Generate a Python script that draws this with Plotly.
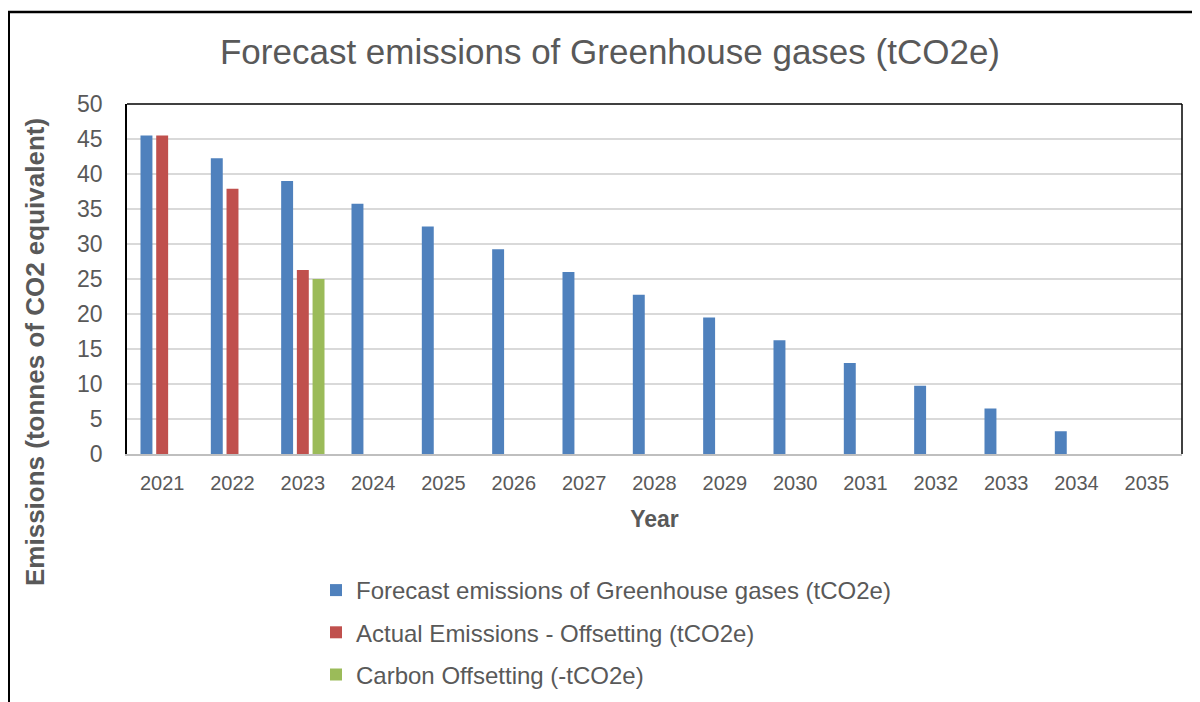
import plotly.graph_objects as go

years = [str(y) for y in range(2021, 2036)]
forecast = [45.5, 42.25, 39.0, 35.75, 32.5, 29.25, 26.0, 22.75, 19.5, 16.25, 13.0, 9.75, 6.5, 3.25, 0]
actual = [45.5, 37.9, 26.3, None, None, None, None, None, None, None, None, None, None, None, None]
offset = [None, None, 25.0, None, None, None, None, None, None, None, None, None, None, None, None]

names = ["Forecast emissions of Greenhouse gases (tCO2e)",
         "Actual Emissions - Offsetting (tCO2e)",
         "Carbon Offsetting (-tCO2e)"]
colors = ["#4F81BD", "#C0504D", "#9BBB59"]

OFF = 8  # page body margin
W, H = 1200 - OFF, 702 - OFF
L, R, T, B = 127 - OFF, 1182 - OFF, 104 - OFF, 454 - OFF
pw, ph = R - L, B - T

fig = go.Figure()
for i, (vals, nm, c) in enumerate(zip([forecast, actual, offset], names, colors)):
    fig.add_trace(go.Bar(x=years, y=vals, name=nm, legendgroup="g%d" % i,
                         marker=dict(color=c, line=dict(width=0))))

FONT = "Liberation Sans, Arial, sans-serif"
GREY = "#595959"

def px(x):
    return (x - OFF - L) / pw

def py(y):
    return (B - (y - OFF)) / ph

fig.update_layout(
    width=W, height=H,
    margin=dict(l=L, r=W - R, t=T, b=H - B, pad=0, autoexpand=False),
    paper_bgcolor="white", plot_bgcolor="white",
    barmode="group", bargap=0.33, bargroupgap=0.24,
    font=dict(family=FONT, color=GREY, size=20),
    title=dict(text="Forecast emissions of Greenhouse gases (tCO2e)",
               font=dict(family=FONT, size=35, color=GREY),
               x=(610 - OFF) / W, xref="container", xanchor="center",
               y=1 - (52 - OFF) / H, yanchor="middle"),
    xaxis=dict(type="category", showgrid=False, showline=True, linecolor="#BFBFBF", linewidth=1.5,
               ticks="", tickfont=dict(size=20, color=GREY), ticklabelstandoff=10,
               automargin=False,
               title=dict(text="<b>Year</b>", font=dict(size=23, color=GREY), standoff=18)),
    yaxis=dict(range=[0, 50], dtick=5, showgrid=True, gridcolor="#D9D9D9", gridwidth=1.5,
               showline=True, linecolor="black", linewidth=1.5, mirror=False, zeroline=False,
               automargin=False,
               ticks="", tickfont=dict(size=23, color=GREY), ticklabelstandoff=18),
    annotations=[dict(text="<b>Emissions (tonnes of CO2 equivalent)</b>", textangle=-90,
                      xref="paper", yref="paper", x=px(35), y=py(352),
                      xanchor="center", yanchor="middle", showarrow=False,
                      font=dict(size=26, color=GREY, family=FONT))],
    legend=dict(orientation="v", x=px(316), xanchor="left", y=py(568), yanchor="top",
                font=dict(size=24, color=GREY), tracegroupgap=8, itemsizing="constant",
                itemwidth=30, bgcolor="rgba(0,0,0,0)", traceorder="grouped"),
    shapes=[
        dict(type="line", xref="paper", yref="paper", x0=0, x1=1, y0=1, y1=1,
             line=dict(color="black", width=1.5)),
        dict(type="line", xref="paper", yref="paper", x0=1, x1=1, y0=0, y1=1,
             line=dict(color="black", width=1.5)),
        dict(type="line", xref="paper", yref="paper", x0=px(8), x1=px(8), y0=py(11), y1=py(720),
             line=dict(color="black", width=4)),
        dict(type="line", xref="paper", yref="paper", x0=px(6), x1=px(1210), y0=py(12), y1=py(12),
             line=dict(color="black", width=2.5)),
    ],
)

fig.write_html("out.html")
